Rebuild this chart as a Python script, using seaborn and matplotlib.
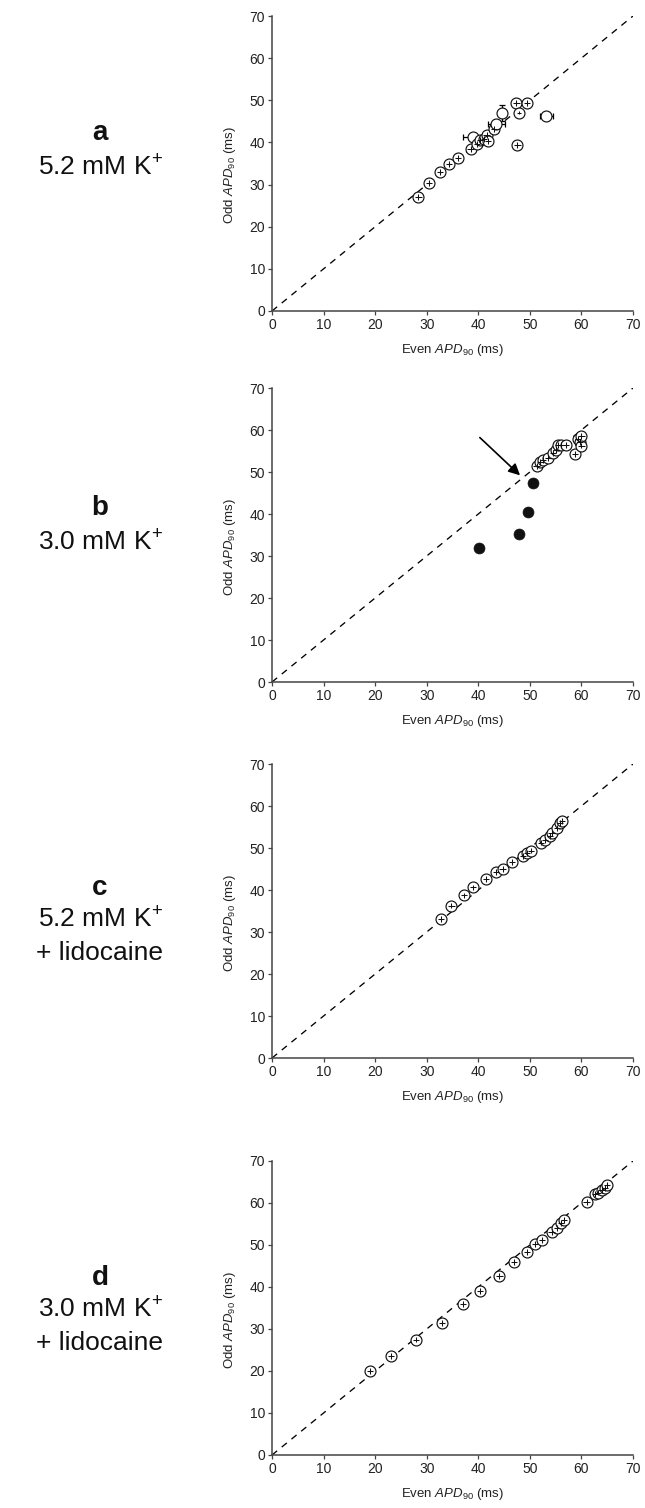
import matplotlib
matplotlib.use("Agg")
import matplotlib.pyplot as plt
import pandas as pd
import seaborn as sns

# ---- data (ms) ----
a_even = [28.4, 30.5, 32.5, 34.3, 36.0, 38.5, 38.9, 39.7, 40.3, 41.1, 41.6, 41.9, 43.0, 43.5, 44.6, 47.4, 47.9, 49.4, 53.2, 47.6]
a_odd = [27.0, 30.3, 33.0, 34.8, 36.2, 38.4, 41.2, 39.7, 40.6, 40.9, 41.8, 40.4, 43.2, 44.3, 47.0, 49.3, 47.1, 49.3, 46.3, 39.4]
a_even_sem = [0.6, 0.6, 0.6, 0.6, 0.6, 0.6, 1.9, 0.6, 0.6, 0.6, 0.6, 0.6, 0.6, 1.6, 0.4, 0.6, 0.4, 0.6, 1.2, 0.6]
a_odd_sem = [0.7, 0.7, 0.7, 0.7, 0.7, 0.7, 0.4, 0.7, 0.7, 0.7, 0.7, 0.7, 0.7, 0.4, 1.8, 0.7, 0.4, 0.7, 0.4, 0.7]

b_even = [51.3, 52.0, 52.5, 53.6, 54.5, 55.0, 55.5, 56.1, 57.0, 58.7, 59.4, 59.8, 60.0, 60.0]
b_odd = [51.4, 52.3, 52.9, 53.3, 54.6, 55.3, 56.4, 56.4, 56.5, 54.3, 57.8, 57.2, 58.5, 56.3]
b_even_sem = [0.6, 0.6, 0.6, 0.6, 0.6, 0.6, 0.6, 0.6, 0.6, 0.6, 0.6, 0.6, 0.6, 0.6]
b_odd_sem = [0.7, 0.7, 0.7, 0.7, 0.7, 0.7, 0.7, 0.7, 0.7, 0.7, 0.7, 0.7, 0.7, 0.7]
# alternans beats (filled symbols)
b_alt_even = [40.2, 47.9, 49.6, 50.6]
b_alt_odd = [31.9, 35.3, 40.4, 47.3]
b_arrow_from = (40.3, 58.2)
b_arrow_to = (48.1, 49.2)

c_even = [32.8, 34.8, 37.3, 38.9, 41.5, 43.4, 44.7, 46.6, 48.6, 49.4, 50.2, 52.1, 52.9, 53.9, 54.2, 55.2, 55.8, 56.3]
c_odd = [33.1, 36.3, 38.7, 40.6, 42.7, 44.2, 45.1, 46.7, 48.2, 48.8, 49.4, 51.3, 52.0, 52.8, 53.6, 54.8, 56.0, 56.5]
c_even_sem = [0.6, 0.6, 0.6, 0.6, 0.6, 0.6, 0.6, 0.6, 0.6, 0.6, 0.6, 0.6, 0.6, 0.6, 0.6, 0.6, 0.6, 0.6]
c_odd_sem = [0.7, 0.7, 0.7, 0.7, 0.7, 0.7, 0.7, 0.7, 0.7, 0.7, 0.7, 0.7, 0.7, 0.7, 0.7, 0.7, 0.7, 0.7]

d_even = [19.0, 23.0, 28.0, 33.0, 37.0, 40.4, 44.1, 47.0, 49.4, 51.0, 52.3, 54.2, 55.2, 56.0, 56.6, 61.0, 62.6, 63.2, 63.9, 64.6, 64.9]
d_odd = [20.0, 23.5, 27.5, 31.5, 36.0, 39.0, 42.6, 46.0, 48.3, 50.2, 51.2, 53.0, 54.1, 55.2, 56.0, 60.2, 62.1, 62.5, 63.1, 63.6, 64.3]
d_even_sem = [0.6, 0.6, 0.6, 0.6, 0.6, 0.6, 0.6, 0.6, 0.6, 0.6, 0.6, 0.6, 0.6, 0.6, 0.6, 0.6, 0.6, 0.6, 0.6, 0.6, 0.6]
d_odd_sem = [0.7, 0.7, 0.7, 0.7, 0.7, 0.7, 0.7, 0.7, 0.7, 0.7, 0.7, 0.7, 0.7, 0.7, 0.7, 0.7, 0.7, 0.7, 0.7, 0.7, 0.7]

ticks = [0, 10, 20, 30, 40, 50, 60, 70]
panel_letters = ["a", "b", "c", "d"]
panel_conditions = [
    ["5.2 mM K$^{+}$"],
    ["3.0 mM K$^{+}$"],
    ["5.2 mM K$^{+}$", "+ lidocaine"],
    ["3.0 mM K$^{+}$", "+ lidocaine"],
]

sns.set_style("ticks")
plt.rcParams['font.family'] = ['Liberation Sans', 'DejaVu Sans']
plt.rcParams['mathtext.fontset'] = 'custom'
plt.rcParams['mathtext.rm'] = 'Liberation Sans'
plt.rcParams['mathtext.it'] = 'Liberation Sans:italic'
plt.rcParams['mathtext.bf'] = 'Liberation Sans:bold'

W, H = 645, 1508
fig = plt.figure(figsize=(W / 100, H / 100), dpi=100)
fig.patch.set_facecolor('white')

# pixel layout: (top of y=70, bottom at y=0)
axes_px = [(16, 311), (388, 682), (764, 1058), (1161, 1455)]
left_px, right_px = 272, 633
letter_px = [(133, [168]), (508, [543]), (888, [920, 953]), (1278, [1310, 1343])]


def draw_panel(ax, even, odd, even_sem, odd_sem):
    ax.plot([0, 70], [0, 70], ls=(0, (5, 4.5)), color='black', lw=0.95, zorder=1)
    df = pd.DataFrame({'even': even, 'odd': odd, 'even_sem': even_sem, 'odd_sem': odd_sem})
    big = (df['even_sem'] > 1) | (df['odd_sem'] > 1)
    # large error bars sit behind the open symbol
    if big.any():
        ax.errorbar(df.loc[big, 'even'], df.loc[big, 'odd'],
                    xerr=df.loc[big, 'even_sem'], yerr=df.loc[big, 'odd_sem'],
                    fmt='none', ecolor='black', elinewidth=0.9, capsize=2.5, capthick=0.9, zorder=2)
    sns.scatterplot(data=df, x='even', y='odd', ax=ax, s=62, color='white',
                    edgecolor='#111111', linewidth=0.85, zorder=3, legend=False)
    small = ~big
    ax.errorbar(df.loc[small, 'even'], df.loc[small, 'odd'],
                xerr=df.loc[small, 'even_sem'], yerr=df.loc[small, 'odd_sem'],
                fmt='none', ecolor='#111111', elinewidth=0.75, capsize=0, zorder=4)


panels = [
    (a_even, a_odd, a_even_sem, a_odd_sem),
    (b_even, b_odd, b_even_sem, b_odd_sem),
    (c_even, c_odd, c_even_sem, c_odd_sem),
    (d_even, d_odd, d_even_sem, d_odd_sem),
]

for i, (even, odd, esem, osem) in enumerate(panels):
    top, bot = axes_px[i]
    ax = fig.add_axes([left_px / W, 1 - bot / H, (right_px - left_px) / W, (bot - top) / H])
    draw_panel(ax, even, odd, esem, osem)
    if i == 1:
        alt = pd.DataFrame({'even': b_alt_even, 'odd': b_alt_odd})
        sns.scatterplot(data=alt, x='even', y='odd', ax=ax, s=62, color='#111111',
                        edgecolor='#111111', linewidth=0.5, zorder=3, legend=False)
        ax.annotate("", xy=b_arrow_to, xytext=b_arrow_from,
                    arrowprops=dict(arrowstyle='-|>', color='black', lw=1.2,
                                    mutation_scale=17, shrinkA=0, shrinkB=0))
    ax.set_xlim(0, 70)
    ax.set_ylim(0, 70)
    ax.set_xticks(ticks)
    ax.set_yticks(ticks)
    ax.set_xlabel(r"Even $\mathit{APD}_{\mathit{90}}$ (ms)", fontsize=9.5, color='#222222')
    ax.set_ylabel(r"Odd $\mathit{APD}_{\mathit{90}}$ (ms)", fontsize=9.5, color='#222222')
    ax.xaxis.set_label_coords(0.5, -0.105)
    ax.yaxis.set_label_coords(-0.095, 0.46)
    sns.despine(ax=ax)
    for sp in ['left', 'bottom']:
        ax.spines[sp].set_color('#444444')
        ax.spines[sp].set_linewidth(1.1)
    ax.tick_params(direction='out', length=3, width=0.9, color='#444444',
                   labelsize=10, labelcolor='#222222', pad=2)
    ax.set_facecolor('white')

    ly, cys = letter_px[i]
    fig.text(100 / W, 1 - ly / H, panel_letters[i], fontsize=20, fontweight='bold',
             ha='center', va='center', color='#111111')
    for txt, cy in zip(panel_conditions[i], cys):
        fig.text(100 / W, 1 - cy / H, txt, fontsize=19, ha='center', va='center', color='#111111')

fig.savefig("out.png", dpi=100, facecolor='white')
